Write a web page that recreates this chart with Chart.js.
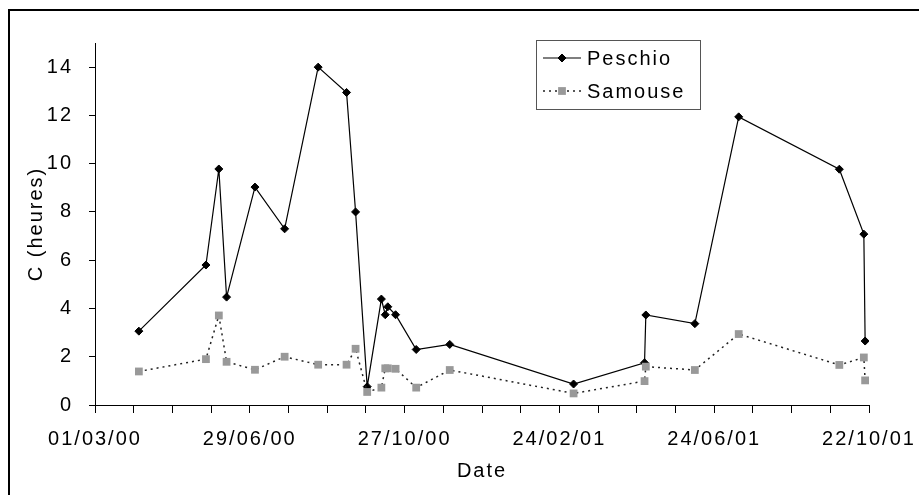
<!DOCTYPE html>
<html>
<head>
<meta charset="utf-8">
<script src="https://cdn.jsdelivr.net/npm/chart.js@4.4.0/dist/chart.umd.min.js"></script>
<style>
    html, body { margin: 0; padding: 0; background: #fff; }
    #caja { width: 919px; height: 495px; position: relative; }
</style>
</head>
<body>
<div id="caja"><canvas id="grafico"></canvas></div>
<script>
// fechas de medida (aaaa-mm-dd) y valores de C en horas
const fechas = [
    "2000-04-04", "2000-05-26", "2000-06-05", "2000-06-11", "2000-07-03", "2000-07-26",
    "2000-08-21", "2000-09-12", "2000-09-19", "2000-09-28", "2000-10-09", "2000-10-12",
    "2000-10-14", "2000-10-20", "2000-11-05", "2000-12-01", "2001-03-07", "2001-05-01",
    "2001-05-02", "2001-06-09", "2001-07-13", "2001-09-29", "2001-10-18", "2001-10-19"
];
const peschio = [3.06, 5.8, 9.78, 4.47, 9.03, 7.3, 14.0, 12.95, 8.0, 0.76, 4.39, 3.74,
                 4.07, 3.74, 2.3, 2.51, 0.87, 1.75, 3.73, 3.37, 11.94, 9.77, 7.08, 2.65];
const samouse = [1.39, 1.9, 3.71, 1.79, 1.46, 2.0, 1.67, 1.67, 2.33, 0.54, 0.72, 1.52,
                 1.52, 1.5, 0.72, 1.45, 0.48, 0.99, 1.59, 1.45, 2.94, 1.66, 1.97, 1.02];
const nombres = ["Peschio", "Samouse"];

const inicioEje = "2000-03-01";
const finEje = "2001-10-22";
const pasoMarcas = 30;      // dias entre marcas
const pasoEtiquetas = 120;  // dias entre etiquetas
const marcasY = [0, 2, 4, 6, 8, 10, 12, 14];
const maxY = 15;

const DIA = 86400000;
function aUTC(s) {
    const p = s.split("-");
    return Date.UTC(+p[0], +p[1] - 1, +p[2]);
}
function numeroDia(s) {
    return Math.round((aUTC(s) - aUTC(inicioEje)) / DIA);
}
function formatoFecha(dia) {
    const d = new Date(aUTC(inicioEje) + dia * DIA);
    const dd = String(d.getUTCDate()).padStart(2, "0");
    const mm = String(d.getUTCMonth() + 1).padStart(2, "0");
    const aa = String(d.getUTCFullYear() % 100).padStart(2, "0");
    return dd + "/" + mm + "/" + aa;
}

const fuente = "'Liberation Sans', Arial, sans-serif";
Chart.defaults.font.family = fuente;
Chart.defaults.font.size = 20;
Chart.defaults.color = "#000";

const espaciado = {
    id: "espaciado",
    beforeLayout(chart) { chart.ctx.letterSpacing = "2px"; },
    beforeDraw(chart) { chart.ctx.letterSpacing = "2px"; }
};

const marco = {
    id: "marco",
    afterDraw(chart) {
        const ctx = chart.ctx;
        ctx.save();
        ctx.strokeStyle = "#000";
        ctx.lineWidth = 2;
        ctx.strokeRect(9, 10, 960, 540);
        ctx.restore();
    }
};

const leyenda = {
    id: "leyenda",
    afterDraw(chart) {
        const ctx = chart.ctx;
        const filas = [58, 91];
        ctx.save();
        ctx.letterSpacing = "2px";
        ctx.fillStyle = "#fff";
        ctx.fillRect(536.5, 40.5, 164, 69);
        ctx.strokeStyle = "#555";
        ctx.lineWidth = 1;
        ctx.strokeRect(536.5, 40.5, 164, 69);
        chart.data.datasets.forEach((ds, i) => {
            const y = filas[i];
            ctx.beginPath();
            ctx.setLineDash(ds.borderDash || []);
            ctx.strokeStyle = ds.borderColor;
            ctx.lineWidth = ds.borderWidth;
            ctx.moveTo(543, y);
            ctx.lineTo(581, y);
            ctx.stroke();
            ctx.setLineDash([]);
            ctx.fillStyle = ds.pointBackgroundColor;
            ctx.strokeStyle = ds.pointBorderColor;
            ctx.lineWidth = ds.pointBorderWidth;
            Chart.helpers.drawPoint(ctx, {
                pointStyle: ds.pointStyle,
                radius: ds.pointRadius,
                borderWidth: ds.pointBorderWidth,
                rotation: 0
            }, 562, y);
            ctx.fillStyle = "#000";
            ctx.font = "20px " + fuente;
            ctx.textBaseline = "middle";
            ctx.textAlign = "left";
            ctx.fillText(ds.label, 587, y + 1);
        });
        ctx.restore();
    }
};

const puntos = serie => fechas.map((f, i) => ({ x: numeroDia(f), y: serie[i] }));

const ctx = document.getElementById("grafico").getContext("2d");
new Chart(ctx, {
    type: "line",
    data: {
        datasets: [
            {
                label: nombres[0],
                data: puntos(peschio),
                borderColor: "#000",
                borderWidth: 1.2,
                pointStyle: "rectRot",
                pointRadius: 4,
                pointBackgroundColor: "#000",
                pointBorderColor: "#000",
                pointBorderWidth: 1,
                order: 1
            },
            {
                label: nombres[1],
                data: puntos(samouse),
                borderColor: "#222",
                borderWidth: 1.5,
                borderDash: [2, 4],
                pointStyle: "rect",
                pointRadius: 5.5,
                pointBackgroundColor: "#999",
                pointBorderColor: "#999",
                pointBorderWidth: 0,
                order: 0
            }
        ]
    },
    options: {
        responsive: true,
        maintainAspectRatio: false,
        animation: false,
        layout: { padding: { top: 43, right: 50, left: 0, bottom: 0 } },
        plugins: {
            legend: { display: false },
            tooltip: { enabled: false }
        },
        scales: {
            x: {
                type: "linear",
                min: 0,
                max: numeroDia(finEje),
                afterBuildTicks: scale => {
                    const t = [];
                    for (let v = 0; v <= numeroDia(finEje); v += pasoMarcas) t.push({ value: v });
                    scale.ticks = t;
                },
                afterFit: scale => {
                    scale.height = 90;
                    scale.paddingLeft = 0;
                    scale.paddingRight = 0;
                },
                ticks: {
                    autoSkip: false,
                    maxRotation: 0,
                    minRotation: 0,
                    padding: 14,
                    callback: v => (v % pasoEtiquetas === 0 ? formatoFecha(v) : "")
                },
                grid: { drawOnChartArea: false, drawTicks: true, tickLength: 8, color: "#000" },
                border: { display: true, color: "#000", width: 1 },
                title: { display: true, text: "Date", padding: { top: 0, bottom: 12 } }
            },
            y: {
                min: 0,
                max: maxY,
                afterBuildTicks: scale => { scale.ticks = marcasY.map(v => ({ value: v })); },
                afterFit: scale => { scale.width = 95; },
                ticks: { padding: 16 },
                grid: { drawOnChartArea: false, drawTicks: true, tickLength: 6, color: "#000" },
                border: { display: true, color: "#000", width: 1 },
                title: { display: true, text: "C (heures)", padding: { top: 24, bottom: 0 } }
            }
        }
    },
    plugins: [espaciado, marco, leyenda]
});
</script>
</body>
</html>
